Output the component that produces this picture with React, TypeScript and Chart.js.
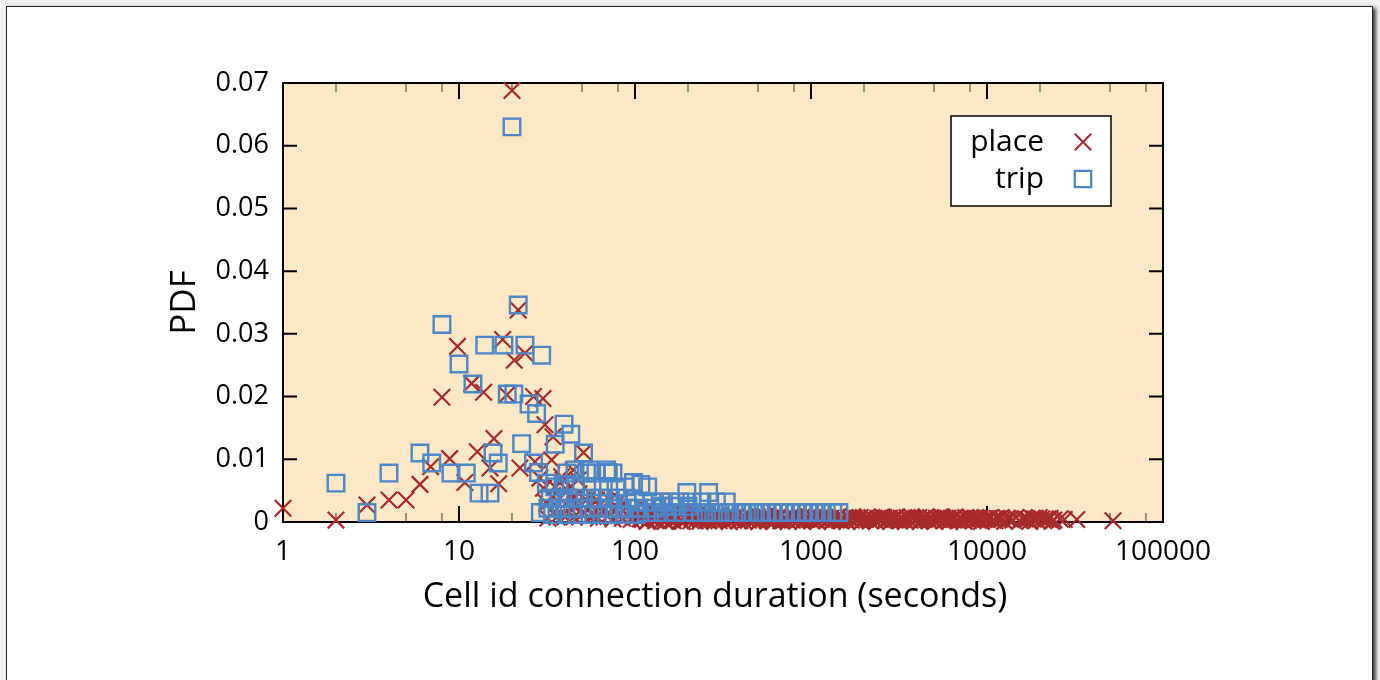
import React, { useEffect, useRef } from 'react';
import { Chart, registerables } from 'chart.js';

Chart.register(...registerables);

const seriesLabels = ['place', 'trip'];

const placeX = [
  1, 2, 3, 4, 5, 6, 6.9, 8, 8.85, 9.8, 10.8, 11.8, 12.7, 13.8, 15, 15.8, 16.8, 17.7, 18.7, 20,
  20.6, 21.7, 22.2, 23.7, 26.5, 27, 28.8, 30, 30.2, 30.8, 31.5, 32, 33.6, 34, 34.2, 35, 36, 37.5, 38.3, 39,
  40, 41, 42.6, 43.6, 44.6, 45, 45.5, 47.5, 48, 50, 51, 53, 53.5, 55, 56, 58, 60.5, 62, 64, 66,
  70, 72, 75, 78.6, 80, 82, 85, 90, 95, 98, 100, 116,
  105, 110, 114, 119, 124, 128, 133, 139, 145, 150, 156, 162, 168, 175, 182, 189, 196, 204, 212, 220,
  229, 238, 247, 257, 267, 278, 289, 300, 312, 324, 337, 350, 364, 378, 393, 408, 424, 441, 458, 476,
  495, 514, 534, 555, 577, 600, 623, 648, 673, 700, 727, 756, 785, 816, 848, 881, 916, 952, 989, 1028,
  1068, 1110, 1153, 1198, 1245, 1294, 1345, 1397, 1452, 1509, 1568, 1629, 1693, 1759, 1828, 1900, 1974, 2051, 2132, 2215,
  2302, 2392, 2486, 2583, 2684, 2789, 2898, 3012, 3130, 3252, 3379, 3512, 3649, 3792, 3940, 4094, 4254, 4421, 4594, 4773,
  4960, 5154, 5356, 5565, 5783, 6009, 6244, 6488, 6742, 7006, 7280, 7565, 7861, 8168, 8488, 8820, 9100, 9600, 10200, 10800,
  11400, 12200, 13000, 14000, 15900, 17000, 18000, 19200, 20500, 21500, 22800, 24000, 26000, 27500, 32400, 52000,
  107, 112, 117, 122, 126, 131, 136, 142, 148, 153, 159, 165, 172, 179, 186, 193, 200, 208, 216, 225,
  234, 243, 252, 262, 272, 284, 295, 306, 318, 330, 343, 357, 371, 386, 401, 416, 432, 449, 467, 486,
  505, 524, 545, 566, 589, 612, 636, 661, 687, 714, 742, 771, 801, 832, 865, 899, 934, 970, 1008, 1048,
  1089, 1131, 1176, 1222, 1270, 1320, 1372, 1425, 1481, 1539, 1599, 1662, 1727, 1795, 1865, 1938, 2014, 2093, 2175, 2260,
  2348, 2440, 2535, 2634, 2737, 2844, 2955, 3070, 3190, 3315, 3444, 3579, 3719, 3864, 4015, 4172, 4335, 4505, 4681, 4864,
  5054, 5252, 5457, 5670, 5892, 6122, 6361, 6610, 6868, 7137, 7416, 7706, 8007, 8320, 8650, 9300, 9900, 10500, 11100, 11800,
  12600, 13500, 14600, 15400, 16500, 17500, 18600, 19800, 21000, 22200, 23400,
];
const placeY = [
  0.0022, 0.0003, 0.0027, 0.0035, 0.0035, 0.006, 0.0088, 0.0199, 0.0101, 0.028, 0.0063, 0.0221, 0.0112, 0.0207, 0.0086, 0.0133, 0.0061, 0.0291, 0.0203, 0.0688,
  0.0258, 0.0338, 0.0086, 0.0269, 0.02, 0.0096, 0.007, 0.0197, 0.0054, 0.0155, 0.003, 0.0006, 0.0099, 0.0042, 0.0136, 0.0056, 0.0008, 0.0038, 0.0072, 0.0067,
  0.0008, 0.0051, 0.0022, 0.0038, 0.0083, 0.0008, 0.0028, 0.0067, 0.0045, 0.0012, 0.0111, 0.0035, 0.0019, 0.0008, 0.0026, 0.001, 0.0035, 0.0006, 0.0028, 0.0019,
  0.0009, 0.0035, 0.0005, 0.0019, 0.001, 0.0035, 0.0006, 0.0012, 0.0004, 0.0019, 0.0008, 0.0019,
  0.0012, 0.0004, 0.0009, 0.0002, 0.0011, 0.0006, 0.0003, 0.001, 0.0005, 0.0002, 0.0009, 0.0004, 0.0011, 0.0006, 0.0002, 0.0008, 0.0004, 0.001, 0.0005, 0.0002,
  0.0008, 0.0004, 0.0009, 0.0003, 0.0007, 0.0004, 0.0009, 0.0002, 0.0006, 0.0008, 0.0003, 0.0007, 0.0004, 0.0008, 0.0002, 0.0006, 0.0008, 0.0003, 0.0007, 0.0004,
  0.0008, 0.0002, 0.0006, 0.0008, 0.0003, 0.0006, 0.0004, 0.0008, 0.0002, 0.0006, 0.0004, 0.0007, 0.0003, 0.0006, 0.0004, 0.0007, 0.0003, 0.0006, 0.0004, 0.0007,
  0.0003, 0.0006, 0.0004, 0.0007, 0.0003, 0.0006, 0.0004, 0.0007, 0.0003, 0.0006, 0.0004, 0.0007, 0.0003, 0.0006, 0.0004, 0.0007, 0.0003, 0.0006, 0.0004, 0.0007,
  0.0003, 0.0006, 0.0004, 0.0007, 0.0003, 0.0006, 0.0004, 0.0007, 0.0003, 0.0006, 0.0004, 0.0007, 0.0003, 0.0006, 0.0004, 0.0007, 0.0003, 0.0006, 0.0004, 0.0007,
  0.0003, 0.0006, 0.0004, 0.0007, 0.0003, 0.0006, 0.0004, 0.0007, 0.0003, 0.0006, 0.0004, 0.0007, 0.0003, 0.0006, 0.0004, 0.0006, 0.0005, 0.0004, 0.0006, 0.0003,
  0.0006, 0.0004, 0.0006, 0.0003, 0.0005, 0.0004, 0.0006, 0.0003, 0.0005, 0.0004, 0.0006, 0.0003, 0.0005, 0.0004, 0.0004, 0.0002,
  0.0005, 0.0014, 0.0001, 0.0007, 0.0015, 0.0002, 0.0009, 0.0013, 0.0001, 0.0007, 0.0012, 0.0002, 0.0008, 0.0013, 0.0001, 0.0006, 0.0011, 0.0002, 0.0008, 0.0012,
  0.0001, 0.0006, 0.0011, 0.0002, 0.0008, 0.0001, 0.0005, 0.001, 0.0002, 0.0007, 0.0001, 0.0005, 0.0009, 0.0002, 0.0006, 0.0001, 0.0005, 0.0009, 0.0002, 0.0006,
  0.0001, 0.0005, 0.0009, 0.0002, 0.0006, 0.0001, 0.0005, 0.0008, 0.0002, 0.0006, 0.0001, 0.0005, 0.0008, 0.0002, 0.0005, 0.0001, 0.0005, 0.0008, 0.0002, 0.0005,
  0.0001, 0.0005, 0.0008, 0.0002, 0.0005, 0.0001, 0.0005, 0.0008, 0.0002, 0.0005, 0.0001, 0.0005, 0.0008, 0.0002, 0.0005, 0.0001, 0.0005, 0.0008, 0.0002, 0.0005,
  0.0001, 0.0005, 0.0008, 0.0002, 0.0005, 0.0001, 0.0005, 0.0008, 0.0002, 0.0005, 0.0001, 0.0005, 0.0008, 0.0002, 0.0005, 0.0001, 0.0005, 0.0008, 0.0002, 0.0005,
  0.0001, 0.0005, 0.0008, 0.0002, 0.0005, 0.0001, 0.0005, 0.0008, 0.0002, 0.0005, 0.0001, 0.0005, 0.0007, 0.0002, 0.0005, 0.0001, 0.0005, 0.0007, 0.0002, 0.0005,
  0.0001, 0.0005, 0.0007, 0.0002, 0.0005, 0.0001, 0.0005, 0.0007, 0.0002, 0.0005, 0.0001,
];

const tripX = [
  2, 3, 4, 6, 7, 8, 9, 10, 11, 12, 13, 14, 15, 15.6, 16.7, 18, 18.8, 20, 20.5, 21.7,
  22.7, 23.7, 25, 26.5, 27.6, 28.3, 29.5, 31.4, 35.2, 39.5, 43.2,
  29, 32, 33, 34, 35, 37, 38, 40, 40.5, 41, 42, 44, 45.6, 46, 47, 48, 50, 51, 53, 55,
  55.5, 56, 57, 60, 62, 63, 65, 66, 69, 70.5, 71, 72, 75, 76, 78, 80, 82, 87, 88, 90,
  93, 98, 100, 101, 105, 108, 112, 116, 118, 125, 127, 132, 140, 145, 150, 160, 165, 170, 180, 190,
  197, 200, 210, 215, 235, 240, 255, 262, 280, 290, 305, 330, 335, 365, 400, 430, 470, 510, 555, 600,
  650, 700, 760, 820, 890, 960, 1040, 1130, 1220, 1330, 1440,
];
const tripY = [
  0.0062, 0.0015, 0.0078, 0.011, 0.0094, 0.0315, 0.0078, 0.0252, 0.0078, 0.022, 0.0046, 0.0282, 0.0046, 0.011, 0.0094, 0.0282, 0.0204, 0.063, 0.0204, 0.0346,
  0.0125, 0.0282, 0.0188, 0.0094, 0.0173, 0.0079, 0.0266, 0.0062, 0.0124, 0.0156, 0.014,
  0.0015, 0.0022, 0.0038, 0.0012, 0.0056, 0.0038, 0.0022, 0.006, 0.0012, 0.0078, 0.0038, 0.0022, 0.0083, 0.0058, 0.0012, 0.0038, 0.0022, 0.011, 0.0078, 0.0083,
  0.0012, 0.0038, 0.0056, 0.0078, 0.0022, 0.0038, 0.0012, 0.0056, 0.0083, 0.0079, 0.0038, 0.0022, 0.0078, 0.0012, 0.0054, 0.0038, 0.0022, 0.0012, 0.0056, 0.0038,
  0.0022, 0.0063, 0.0032, 0.0012, 0.0022, 0.006, 0.0032, 0.0015, 0.0056, 0.0032, 0.0022, 0.0015, 0.0032, 0.0025, 0.0015, 0.0032, 0.0025, 0.0015, 0.0032, 0.0015,
  0.0047, 0.0025, 0.0032, 0.0015, 0.0015, 0.0032, 0.0015, 0.0047, 0.0015, 0.0032, 0.0015, 0.0032, 0.0015, 0.0015, 0.0015, 0.0015, 0.0015, 0.0015, 0.0015, 0.0015,
  0.0015, 0.0015, 0.0015, 0.0015, 0.0015, 0.0015, 0.0015, 0.0015, 0.0015, 0.0015, 0.0015,
];

const xTickValues = [1, 10, 100, 1000, 10000, 100000];
const xTickLabels = ['1', '10', '100', '1000', '10000', '100000'];
const xMinorTicks = [2, 5, 8, 20, 50, 80, 200, 500, 800, 2000, 5000, 8000, 20000, 50000, 80000];
const yTickValues = [0, 0.01, 0.02, 0.03, 0.04, 0.05, 0.06, 0.07];
const yTickLabels = ['0', '0.01', '0.02', '0.03', '0.04', '0.05', '0.06', '0.07'];

const xTitle = 'Cell id connection duration (seconds)';
const yTitle = 'PDF';

const RED = '#A82A2C';
const BLUE = '#4A86C8';
const PLOT_BG = '#FDE8C5';
const FONT = "'Open Sans', 'DejaVu Sans', sans-serif";

const framePlugin = {
  id: 'gnuFrame',
  beforeDraw(chart: any) {
    const { ctx, chartArea } = chart;
    const { left, top, right, bottom } = chartArea;
    ctx.save();
    ctx.fillStyle = PLOT_BG;
    ctx.fillRect(left, top, right - left, bottom - top);
    ctx.restore();
  },
  beforeDatasetsDraw(chart: any) {
    const { ctx, chartArea, scales } = chart;
    const { left, top, right, bottom } = chartArea;
    const x = scales.x;
    const y = scales.y;
    ctx.save();
    ctx.lineCap = 'butt';
    ctx.strokeStyle = '#555';
    ctx.lineWidth = 1.2;
    ctx.beginPath();
    for (const v of xMinorTicks) {
      const px = x.getPixelForValue(v);
      ctx.moveTo(px, bottom);
      ctx.lineTo(px, bottom - 9);
      ctx.moveTo(px, top);
      ctx.lineTo(px, top + 9);
    }
    ctx.stroke();
    ctx.strokeStyle = '#000';
    ctx.lineWidth = 2;
    ctx.beginPath();
    for (const v of xTickValues) {
      const px = x.getPixelForValue(v);
      ctx.moveTo(px, bottom);
      ctx.lineTo(px, bottom - 16);
      ctx.moveTo(px, top);
      ctx.lineTo(px, top + 16);
    }
    for (const v of yTickValues) {
      const py = y.getPixelForValue(v);
      ctx.moveTo(left, py);
      ctx.lineTo(left + 14, py);
      ctx.moveTo(right, py);
      ctx.lineTo(right - 14, py);
    }
    ctx.stroke();
    ctx.lineWidth = 2;
    ctx.strokeRect(left, top, right - left, bottom - top);
    ctx.restore();
  },
  afterDatasetsDraw(chart: any) {
    const { ctx, chartArea } = chart;
    const bx = chartArea.right - 212;
    const by = chartArea.top + 33;
    const bw = 160;
    const bh = 90;
    ctx.save();
    ctx.fillStyle = '#fff';
    ctx.fillRect(bx, by, bw, bh);
    ctx.strokeStyle = '#000';
    ctx.lineWidth = 1.5;
    ctx.strokeRect(bx, by, bw, bh);
    ctx.font = `30px ${FONT}`;
    ctx.fillStyle = '#000';
    ctx.textAlign = 'right';
    ctx.textBaseline = 'middle';
    const rows = [by + 26, by + 63];
    chart.data.datasets.forEach((ds: any, i: number) => {
      const cy = rows[i];
      ctx.fillText(ds.label, bx + 93, cy);
      const mx = bx + 132;
      const r = 8.2;
      ctx.strokeStyle = i === 0 ? RED : BLUE;
      ctx.lineWidth = i === 0 ? 2 : 2.3;
      ctx.beginPath();
      if (i === 0) {
        ctx.moveTo(mx - r, cy - r);
        ctx.lineTo(mx + r, cy + r);
        ctx.moveTo(mx + r, cy - r);
        ctx.lineTo(mx - r, cy + r);
      } else {
        ctx.rect(mx - r, cy - r, 2 * r, 2 * r);
      }
      ctx.stroke();
    });
    // x-axis title, centred slightly left of the plot centre as in the original
    ctx.font = `34px ${FONT}`;
    ctx.textAlign = 'center';
    ctx.textBaseline = 'middle';
    ctx.fillStyle = '#000';
    ctx.fillText(xTitle, (chartArea.left + chartArea.right) / 2 - 8, 597);
    ctx.restore();
  },
};

export default function App() {
  const ref = useRef<HTMLCanvasElement>(null);

  useEffect(() => {
    if (!ref.current) return;
    const chart = new Chart(ref.current, {
      type: 'scatter',
      data: {
        datasets: [
          {
            label: seriesLabels[0],
            data: placeX.map((x, i) => ({ x, y: placeY[i] })),
            pointStyle: 'crossRot',
            pointRadius: 11.7,
            pointBorderWidth: 2.2,
            pointBorderColor: RED,
            pointBackgroundColor: RED,
            borderColor: RED,
            backgroundColor: RED,
            order: 2,
            clip: false,
          } as any,
          {
            label: seriesLabels[1],
            data: tripX.map((x, i) => ({ x, y: tripY[i] })),
            pointStyle: 'rect',
            pointRadius: 11.7,
            pointBorderWidth: 2.4,
            pointBorderColor: BLUE,
            pointBackgroundColor: 'rgba(0,0,0,0)',
            borderColor: BLUE,
            backgroundColor: 'rgba(0,0,0,0)',
            order: 1,
            clip: false,
          } as any,
        ],
      },
      options: {
        responsive: false,
        animation: false,
        events: [],
        layout: { padding: { left: 0, top: 83, right: 217, bottom: 0 } },
        plugins: { legend: { display: false }, tooltip: { enabled: false } },
        scales: {
          x: {
            type: 'logarithmic',
            position: 'bottom',
            min: 1,
            max: 100000,
            grid: { display: false, drawTicks: false },
            border: { display: false },
            afterBuildTicks: (s: any) => {
              s.ticks = xTickValues.map((v) => ({ value: v }));
            },
            afterFit: (s: any) => {
              s.height = 158;
            },
            ticks: {
              autoSkip: false,
              maxRotation: 0,
              minRotation: 0,
              padding: 13,
              color: '#000',
              font: { family: FONT, size: 28 },
              callback: (_v: any, i: number) => xTickLabels[i],
            },
            title: { display: false },
          } as any,
          y: {
            type: 'linear',
            position: 'left',
            min: 0,
            max: 0.07,
            grid: { display: false, drawTicks: false },
            border: { display: false },
            afterBuildTicks: (s: any) => {
              s.ticks = yTickValues.map((v) => ({ value: v }));
            },
            afterFit: (s: any) => {
              s.width = 283;
            },
            ticks: {
              padding: 14,
              color: '#000',
              font: { family: FONT, size: 27 },
              callback: (_v: any, i: number) => yTickLabels[i],
            },
            title: {
              display: true,
              text: yTitle,
              color: '#000',
              font: { family: FONT, size: 35 },
              padding: { top: 164, bottom: 0 },
            },
          } as any,
        },
      },
      plugins: [framePlugin],
    });
    return () => chart.destroy();
  }, []);

  return (
    <div style={{ position: 'fixed', left: 0, top: 0, width: 1380, height: 680, background: '#f2f2f2', overflow: 'hidden' }}>
      <div
        style={{
          position: 'absolute',
          left: 6,
          top: 6,
          width: 1365,
          height: 740,
          background: '#fff',
          border: '1.5px solid #222',
          boxShadow: '3px 2px 4px rgba(0,0,0,0.75)',
        }}
      />
      <canvas ref={ref} width={1380} height={680} style={{ position: 'absolute', left: 0, top: 0, width: 1380, height: 680 }} />
    </div>
  );
}
